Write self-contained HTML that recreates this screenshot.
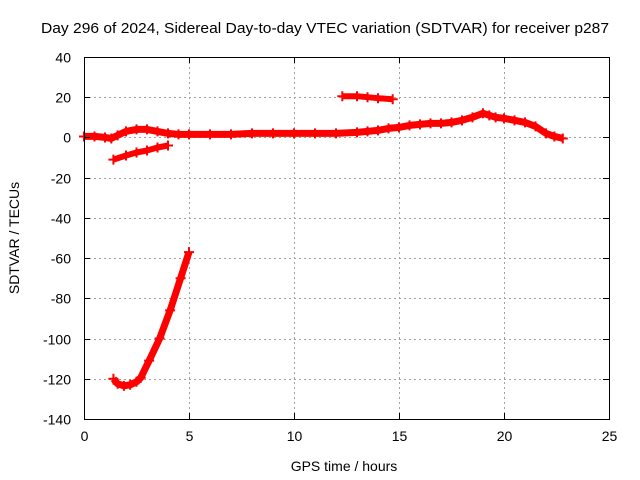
<!DOCTYPE html>
<html><head><meta charset="utf-8"><style>
body{margin:0;background:#fff}
svg{display:block;font-family:"Liberation Sans",sans-serif}
</style></head><body>
<svg id="chart" width="640" height="480" viewBox="0 0 640 480">
<rect width="640" height="480" fill="#fff"/>
<g id="grid"></g>
<g id="series"></g>
<rect x="84.5" y="57.5" width="525" height="362" fill="none" stroke="#000" stroke-width="1"/>
<g id="ticks" font-size="14" fill="#000"></g>
<text x="41" y="33" font-size="15" textLength="568" lengthAdjust="spacingAndGlyphs">Day 296 of 2024, Sidereal Day-to-day VTEC variation (SDTVAR) for receiver p287</text>
<text x="344" y="471" font-size="14" text-anchor="middle">GPS time / hours</text>
<text transform="translate(19,238) rotate(-90)" font-size="14" text-anchor="middle">SDTVAR / TECUs</text>
</svg>
<script>
const xTicks=[0,5,10,15,20,25];
const yTicks=[40,20,0,-20,-40,-60,-80,-100,-120,-140];
const mainX=[0,0.5,1.0,1.3,1.6,2.0,2.5,3.0,3.5,4.0,4.5,5.0,6.0,7.0,8.0,9.0,10.0,11.0,12.0,13.0,13.5,14.0,14.5,15.0,15.5,16.0,16.5,17.0,17.5,18.0,18.5,19.0,19.3,19.6,20.0,20.5,21.0,21.5,22.0,22.4,22.8];
const mainY=[0.5,0.5,0,-0.5,1,3,4,4,3,2,1.5,1.5,1.5,1.5,2,2,2,2,2,2.5,3,3.5,4.5,5,6,6.5,7,7,7.5,8.5,10,12,11,10,9.5,8.5,7.5,5.5,2,0.5,-0.5];
const topX=[12.3,13.0,13.5,14.0,14.7];
const topY=[20.5,20.5,20,19.5,19];
const lowX=[1.4,2.0,2.5,3.0,3.5,4.0];
const lowY=[-11,-9,-7.5,-6.5,-5,-4];
const curveX=[1.4,1.6,1.9,2.2,2.5,2.7,3.1,3.6,4.1,4.6,5.0];
const curveY=[-120,-122.5,-123.5,-123,-121.5,-119.5,-111,-100,-86,-70,-57];
const NS='http://www.w3.org/2000/svg';
const L=84,R=609,T=57,B=419;
function sx(v){return L+(v-0)/(25-0)*(R-L);}
function sy(v){return T+(40-v)/(40-(-140))*(B-T);}
const grid=document.getElementById('grid'),ticks=document.getElementById('ticks'),ser=document.getElementById('series');
function mk(t,a,p){const e=document.createElementNS(NS,t);for(const k in a)e.setAttribute(k,a[k]);p.appendChild(e);return e;}
xTicks.forEach(v=>{const x=Math.round(sx(v))+0.5;
 if(v>0&&v<25){const g=mk('line',{x1:x,x2:x,y1:T,y2:B,stroke:'#a0a0a0','stroke-dasharray':'2,3'},grid);
 
 }
 const tk=mk('path',{d:`M${x},${B}v-6M${x},${T}v6`,stroke:'#000'},ticks);
 
 
 const t=mk('text',{x:x,y:B+22,'text-anchor':'middle'},ticks);t.textContent=v;
 
 });
yTicks.forEach(v=>{const y=Math.round(sy(v))+0.5;
 if(v<40&&v>-140){const g=mk('line',{x1:L,x2:R,y1:y,y2:y,stroke:'#a0a0a0','stroke-dasharray':'2,3'},grid);
 
 }
 const tk=mk('path',{d:`M${L},${y}h6M${R},${y}h-6`,stroke:'#000'},ticks);
 
 
 const t=mk('text',{x:71,y:y+5,'text-anchor':'end'},ticks);t.textContent=v;
 
 });
function draw(xs,ys,name,w){
 const pts=xs.map((x,i)=>sx(x).toFixed(1)+','+sy(ys[i]).toFixed(1)).join(' ');
 const pl=mk('polyline',{points:pts,fill:'none',stroke:'#f00','stroke-width':w,'stroke-linejoin':'round'},ser);
 
 
 xs.forEach((x,i)=>{const px=sx(x),py=sy(ys[i]);
  const p=mk('path',{d:`M${px-5},${py}h10M${px},${py-5}v10`,stroke:'#f00','stroke-width':2},ser);
  
  });
}
draw(mainX,mainY,'main-series',7);
draw(topX,topY,'upper-segment',6);
draw(lowX,lowY,'lower-segment',6);
draw(curveX,curveY,'deep-curve',7);
</script>
</body></html>
